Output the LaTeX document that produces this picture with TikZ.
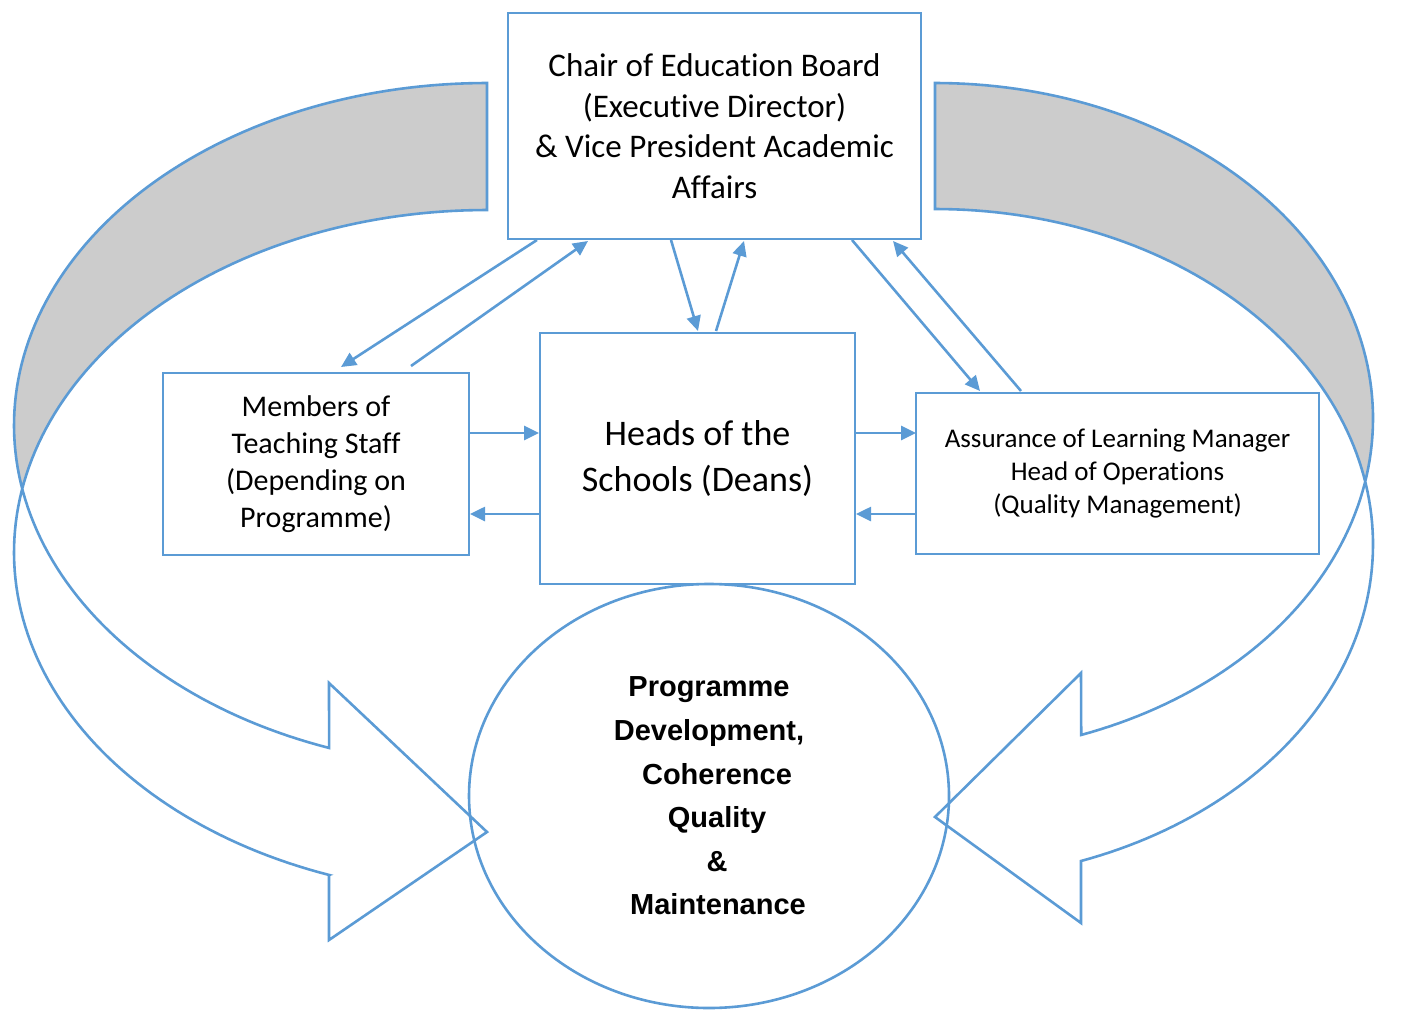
\documentclass[tikz,border=0pt]{standalone}
\usepackage{fontspec}
\setmainfont{Carlito}[Ligatures=NoCommon]
\newfontfamily\arialfont{Liberation Sans}
\usetikzlibrary{arrows.meta,shapes.geometric,calc}
\definecolor{myblue}{RGB}{91,155,213}
\definecolor{backgrey}{RGB}{204,204,204}
\begin{document}
\begin{tikzpicture}[x=1pt,y=-1pt,
  box/.style={draw=myblue, line width=2.8pt, fill=white, inner sep=0pt, outer sep=0pt, align=center, text=black},
  conn/.style={draw=myblue, line width=2.6pt, -{Triangle[length=15pt,width=14pt]}},
  bigarrow/.style={draw=myblue, line width=2.6pt, line join=miter}]
\useasboundingbox (0,0) rectangle (1404,1032);

% ---- left curved arrow ----
\fill[backgrey] plot[domain=270:169.3,samples=90,variable=\t] ({487+473*cos(\t)},{425.3+342.3*sin(\t)})
  -- plot[domain=190.7:270,samples=60,variable=\t] ({487+473*cos(\t)},{552.3+342.3*sin(\t)}) -- cycle;
\draw[bigarrow] (487,83) -- plot[domain=270:109.5,samples=120,variable=\t] ({487+473*cos(\t)},{425.3+342.3*sin(\t)})
  -- (329,683) -- (487,832) -- (329,940) -- (329,875)
  -- plot[domain=109.5:270,samples=120,variable=\t] ({487+473*cos(\t)},{552.3+342.3*sin(\t)}) -- cycle;

% ---- right curved arrow ----
\fill[backgrey] plot[domain=270:370.8,samples=90,variable=\t] ({935+438*cos(\t)},{418.6+335.6*sin(\t)})
  -- plot[domain=349.2:270,samples=60,variable=\t] ({935+438*cos(\t)},{544.6+335.6*sin(\t)}) -- cycle;
\draw[bigarrow] (935,83) -- plot[domain=270:430.5,samples=120,variable=\t] ({935+438*cos(\t)},{418.6+335.6*sin(\t)})
  -- (1081,673) -- (935,817) -- (1081,923) -- (1081,861)
  -- plot[domain=430.5:270,samples=120,variable=\t] ({935+438*cos(\t)},{544.6+335.6*sin(\t)}) -- cycle;

% ---- boxes ----
\node[box, minimum width=413pt, minimum height=226pt, font=\fontsize{33}{40.5}\selectfont] (top) at (714.5,126)
  {Chair of Education Board\\(Executive Director)\\\& Vice President Academic\\Affairs};
\node[box, minimum width=306pt, minimum height=182pt, font=\fontsize{30}{37}\selectfont] (members) at (316,464)
  {Members of\\Teaching Staff\\(Depending on\\Programme)};
\node[box, minimum width=315pt, minimum height=251pt, font=\fontsize{36}{46}\selectfont] (heads) at (697.5,458.5)
  {Heads of the\\Schools (Deans)};
\node[box, minimum width=403pt, minimum height=161pt, font=\fontsize{27}{33}\selectfont] (assur) at (1117.5,473.5)
  {Assurance of Learning Manager\\Head of Operations\\(Quality Management)};

% ---- ellipse ----
\node[ellipse, draw=myblue, line width=2.6pt, inner sep=0pt, outer sep=0pt, minimum width=480pt, minimum height=424pt,
  align=center, font=\arialfont\bfseries\fontsize{29}{43.6}\selectfont] (goal) at (709,796)
  {Programme\\Development,\\\hspace*{16pt}Coherence\\\hspace*{16pt}Quality\\\hspace*{16pt}\&\\\hspace*{18pt}Maintenance};

% ---- connectors ----
\draw[conn] ($(top.south west)+(29,1)$) -- ($(members.north west)+(178,-6)$);
\draw[conn] ($(members.north west)+(248,-7)$) -- ($(top.south west)+(80,2)$);
\draw[conn] ($(top.south west)+(163,1)$) -- ($(heads.north west)+(158,-2)$);
\draw[conn] ($(heads.north west)+(176,-2)$) -- ($(top.south west)+(236,2)$);
\draw[conn] ($(top.south west)+(344,1)$) -- ($(assur.north west)+(64,-2)$);
\draw[conn] ($(assur.north west)+(105,-2)$) -- ($(top.south west)+(385,2)$);
\draw[conn] ($(members.north east)+(0,60)$) -- ($(heads.north west)+(-1,100)$);
\draw[conn] ($(heads.north west)+(0,181)$) -- ($(members.north east)+(1,141)$);
\draw[conn] ($(heads.north east)+(0,100)$) -- ($(assur.north west)+(0,40)$);
\draw[conn] ($(assur.north west)+(0,121)$) -- ($(heads.north east)+(1,181)$);
\end{tikzpicture}
\end{document}
